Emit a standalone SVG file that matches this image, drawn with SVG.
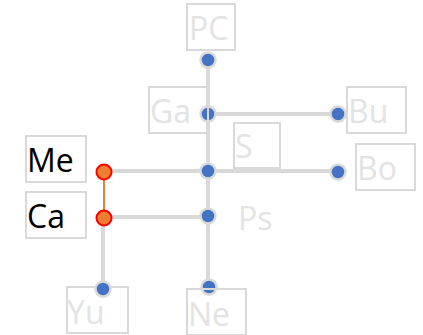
<svg xmlns="http://www.w3.org/2000/svg" width="423" height="335" viewBox="0 0 423 335">
<style>
.box{fill:none;stroke:#d9d9d9;stroke-width:2}
.t{font-family:"Open Sans","Noto Sans",sans-serif;font-size:32px;fill:#e3e3e3}
.k{fill:#000}
.ln{stroke:#d9d9d9;stroke-width:4;fill:none}
.dot{fill:#4472c4;stroke:#d9d9d9;stroke-width:2.5}
.od{fill:#ed7d31;stroke:#ff0000;stroke-width:2}
</style>
<rect width="423" height="335" fill="#fff"/>
<g id="node-Yu"><rect class="box" x="67" y="287" width="61" height="46"/><text class="t" x="67" y="324">Yu</text></g>
<g id="connectors">
<line class="ln" x1="208" y1="60" x2="208" y2="287"/>
<line class="ln" x1="208" y1="114" x2="338" y2="114"/>
<line class="ln" x1="103" y1="171" x2="338" y2="171"/>
<line class="ln" x1="103" y1="217" x2="208" y2="217"/>
<line class="ln" x1="103" y1="217" x2="103" y2="289"/>
<line x1="104" y1="172" x2="104" y2="218" stroke="#ed7d31" stroke-width="2"/>
<circle class="dot" cx="208" cy="60" r="7.5"/>
<circle class="dot" cx="208" cy="114" r="7.5"/>
<circle class="dot" cx="338" cy="114" r="7.5"/>
<circle class="dot" cx="208" cy="171" r="7.5"/>
<circle class="dot" cx="338" cy="172" r="7.5"/>
<circle class="dot" cx="208" cy="216" r="7.5"/>
<circle class="dot" cx="209" cy="287" r="7.5"/>
<circle class="dot" cx="103" cy="289" r="7.5"/>
<circle class="od" cx="104" cy="172" r="7.5"/>
<circle class="od" cx="104" cy="218" r="7.5"/>
</g>
<g id="node-PC"><rect class="box" x="187" y="4" width="48" height="46"/><text class="t" x="189" y="40">PC</text></g>
<g id="node-Ga"><rect class="box" x="149" y="87" width="59" height="46"/><text class="t" x="150" y="123">Ga</text></g>
<g id="node-Bu"><rect class="box" x="347" y="87" width="59" height="46"/><text class="t" x="348" y="123">Bu</text></g>
<g id="node-S"><rect class="box" x="234" y="123" width="46" height="45"/><text class="t" x="235" y="158">S</text></g>
<g id="node-Bo"><rect class="box" x="356" y="144" width="59" height="46"/><text class="t" x="357" y="180">Bo</text></g>
<g id="node-Me"><rect class="box" x="26" y="136" width="60" height="46"/><text class="t k" x="27" y="172">Me</text></g>
<g id="node-Ca"><rect class="box" x="26" y="192" width="60" height="46"/><text class="t k" x="27" y="228">Ca</text></g>
<g id="node-Ps"><text class="t" x="238" y="230">Ps</text></g>
<g id="node-Ne"><rect class="box" x="187" y="289" width="59" height="46"/><text class="t" x="188" y="326">Ne</text></g>
</svg>
